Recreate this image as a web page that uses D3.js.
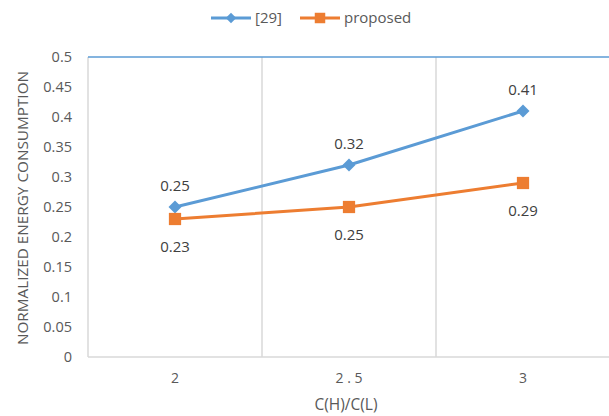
<!DOCTYPE html>
<html><head><meta charset="utf-8">
<script src="https://cdn.jsdelivr.net/npm/d3@7"></script>
<style>body{margin:0;background:#fff}svg{display:block}text{font-family:"Open Sans",sans-serif}</style>
</head><body><svg id="c" width="609" height="416"></svg>
<script>
const categories = ["2", "2.5", "3"];
const tickLabels = ["2", "2 . 5", "3"];
const seriesNames = ["[29]", "proposed"];
const series29 = [0.25, 0.32, 0.41];
const seriesProposed = [0.23, 0.25, 0.29];
const yTicks = [0, 0.05, 0.1, 0.15, 0.2, 0.25, 0.3, 0.35, 0.4, 0.45, 0.5];

(function () {
const svg = d3.select("#c");
const pL = 88, pR = 610, pT = 57, pB = 357;
const x = d3.scaleBand().domain(categories).range([pL, pR]);
const y = d3.scaleLinear().domain([0, 0.5]).range([pB, pT]);
const blue = "#5B9BD5", orange = "#ED7D31", grid = "#D9D9D9";

const bounds = categories.map(c => x(c)).concat([pR]);
svg.selectAll(".vg").data(bounds).enter().append("line")
  .attr("x1", d => d).attr("x2", d => d).attr("y1", pT).attr("y2", pB)
  .attr("stroke", grid).attr("stroke-width", 1.5);
svg.append("line").attr("x1", pL).attr("x2", pR).attr("y1", pB).attr("y2", pB)
  .attr("stroke", grid).attr("stroke-width", 1.5);
svg.append("line").attr("x1", pL).attr("x2", pR).attr("y1", y(0.5)).attr("y2", y(0.5))
  .attr("stroke", blue).attr("stroke-width", 1.5);

svg.selectAll(".yt").data(yTicks).enter().append("text")
  .attr("x", 72).attr("y", d => y(d)).attr("dy", "0.35em")
  .attr("text-anchor", "end").attr("font-size", 14.5).attr("fill", "#595959")
  .text(d => d3.format("")(d));
svg.selectAll(".xt").data(categories).enter().append("text")
  .attr("x", d => x(d) + x.bandwidth() / 2).attr("y", 383)
  .attr("text-anchor", "middle").attr("font-size", 14).attr("fill", "#595959")
  .text((d, i) => tickLabels[i]);
svg.append("text").attr("x", 346).attr("y", 410).attr("text-anchor", "middle")
  .attr("font-size", 15.5).attr("fill", "#595959").text("C(H)/C(L)");
svg.append("text").attr("transform", "translate(28,208) rotate(-90)")
  .attr("text-anchor", "middle").attr("font-size", 15.3).attr("fill", "#595959")
  .text("NORMALIZED ENERGY CONSUMPTION");

const cx = d => x(d) + x.bandwidth() / 2;
const line = d3.line().x((d, i) => cx(categories[i])).y(d => y(d));
const square = d3.symbol().type(d3.symbolSquare).size(150);
const diamond = d3.symbol().type(d3.symbolSquare).size(85);

function drawSeries(vals, color, sym, rot, dyLabel) {
  svg.append("path").datum(vals).attr("d", line).attr("fill", "none")
    .attr("stroke", color).attr("stroke-width", 3).attr("stroke-linejoin", "round");
  svg.selectAll(null).data(vals).enter().append("path")
    .attr("d", sym).attr("fill", color)
    .attr("transform", (d, i) => `translate(${cx(categories[i])},${y(d)}) rotate(${rot})`);
  svg.selectAll(null).data(vals).enter().append("text")
    .attr("x", (d, i) => cx(categories[i])).attr("y", d => y(d) + dyLabel)
    .attr("text-anchor", "middle").attr("font-size", 15).attr("fill", "#404040")
    .text(d => d);
}
drawSeries(series29, blue, diamond, 45, -16);
drawSeries(seriesProposed, orange, square, 0, 33);

const lg = [
  {name: seriesNames[0], color: blue, x1: 211, sym: d3.symbol().type(d3.symbolSquare).size(55), rot: 45, tx: 255},
  {name: seriesNames[1], color: orange, x1: 300, sym: d3.symbol().type(d3.symbolSquare).size(110), rot: 0, tx: 344}
];
lg.forEach(l => {
  svg.append("line").attr("x1", l.x1).attr("x2", l.x1 + 40).attr("y1", 18).attr("y2", 18)
    .attr("stroke", l.color).attr("stroke-width", 3);
  svg.append("path").attr("d", l.sym).attr("fill", l.color)
    .attr("transform", `translate(${l.x1 + 20},18) rotate(${l.rot})`);
  svg.append("text").attr("x", l.tx).attr("y", 18).attr("dy", "0.35em")
    .attr("font-size", 15).attr("fill", "#595959").text(l.name);
});
})();
</script></body></html>
